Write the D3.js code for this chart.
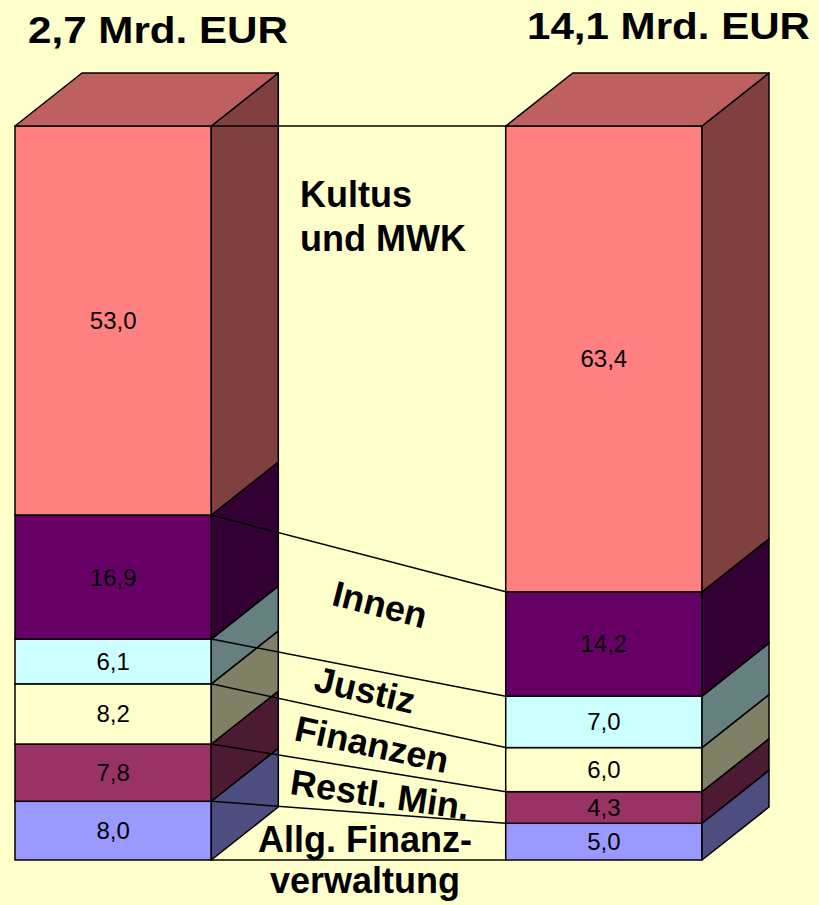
<!DOCTYPE html>
<html>
<head>
<meta charset="utf-8">
<script src="https://cdn.jsdelivr.net/npm/d3@7"></script>
<style>
  html, body { margin: 0; padding: 0; background: #FFFFCC; }
  svg { display: block; font-family: "Liberation Sans", Arial, sans-serif; }
</style>
</head>
<body>
<svg id="chart" width="819" height="905"></svg>
<script>
// bars (totals) and segments, bottom to top
const bars = ["2,7 Mrd. EUR", "14,1 Mrd. EUR"];
const categories = ["Allg. Finanzverwaltung", "Restl. Min.", "Finanzen", "Justiz", "Innen", "Kultus und MWK"];
const labelLines = [["Allg. Finanz-", "verwaltung"], ["Restl. Min."], ["Finanzen"], ["Justiz"], ["Innen"], ["Kultus", "und MWK"]];
const valuesLeft = [8.0, 7.8, 8.2, 6.1, 16.9, 53.0];
const valuesRight = [5.0, 4.3, 6.0, 7.0, 14.2, 63.4];
const colors = ["#9999FF", "#993366", "#FFFFCC", "#CCFFFF", "#660066", "#FF8080"];

const W = 819, H = 905;
const depth = { x: 67, y: -53 };

const svg = d3.select("#chart");
svg.append("rect").attr("width", W).attr("height", H).attr("fill", "#FFFFCC");

const rows = bars.map((b, i) => {
    const vals = i === 0 ? valuesLeft : valuesRight;
    const r = { bar: b };
    categories.forEach((c, j) => r[c] = vals[j]);
    return r;
});

const series = d3.stack().keys(categories).offset(d3.stackOffsetExpand)(rows);

const x = d3.scaleBand().domain(bars).range([15, 702]).paddingInner(0.6);
const y = d3.scaleLinear().domain([0, 1]).range([860, 126]);
const w = x.bandwidth();

const shade = (c, k) => {
    const r = d3.rgb(c);
    return d3.rgb(r.r * k, r.g * k, r.b * k).formatHex();
};

const de = d3.formatLocale({ decimal: ",", thousands: ".", grouping: [3], currency: ["", " €"] });
const fmt = de.format(".1f");

const gBars = svg.append("g").attr("class", "bars");

// faces
series.forEach((s, si) => {
    s.forEach((d, bi) => {
        const x0 = x(bars[bi]);
        const yt = y(d[1]), yb = y(d[0]);
        const g = gBars.append("g");
        g.append("rect")
            .attr("x", x0).attr("y", yt)
            .attr("width", w).attr("height", yb - yt)
            .attr("fill", colors[si])
            .attr("stroke", "#000").attr("stroke-width", 1.5);
        g.append("polygon")
            .attr("points", [
                [x0 + w, yt], [x0 + w + depth.x, yt + depth.y],
                [x0 + w + depth.x, yb + depth.y], [x0 + w, yb]
            ].join(" "))
            .attr("fill", shade(colors[si], 0.5))
            .attr("stroke", "#000").attr("stroke-width", 1.5)
            .attr("stroke-linejoin", "round");
        if (si === series.length - 1) {
            g.append("polygon")
                .attr("points", [
                    [x0, yt], [x0 + depth.x, yt + depth.y],
                    [x0 + w + depth.x, yt + depth.y], [x0 + w, yt]
                ].join(" "))
                .attr("fill", shade(colors[si], 0.75))
                .attr("stroke", "#000").attr("stroke-width", 1.5)
                .attr("stroke-linejoin", "round");
        }
        g.append("text")
            .attr("x", x0 + w / 2)
            .attr("y", (yt + yb) / 2)
            .attr("text-anchor", "middle")
            .attr("dominant-baseline", "central")
            .attr("font-size", 24)
            .attr("fill", "#000")
            .text(fmt(rows[bi][categories[si]]));
    });
});

// connector lines between the two bars
const xa = x(bars[0]) + w, xb = x(bars[1]);
const bounds = [[series[0][0][0], series[0][1][0]]].concat(series.map(s => [s[0][1], s[1][1]]));
svg.append("g").selectAll("line")
    .data(bounds)
    .join("line")
    .attr("x1", xa).attr("y1", d => y(d[0]))
    .attr("x2", xb).attr("y2", d => y(d[1]))
    .attr("stroke", "#000").attr("stroke-width", 1.5);

// titles
const titleX = [28, 527], titleY = [43, 39], titleLen = [260, 283];
svg.append("g").selectAll("text")
    .data(bars)
    .join("text")
    .attr("x", (_, i) => titleX[i])
    .attr("y", (_, i) => titleY[i])
    .attr("font-size", 37)
    .attr("font-weight", "bold")
    .attr("textLength", (_, i) => titleLen[i])
    .attr("lengthAdjust", "spacingAndGlyphs")
    .text(d => d);

// category labels
const labelCx = [365, 380, 372, 365, 380, 300];
const labelNudge = [0, 2, 0, -3, -11, 0];
const gLab = svg.append("g").attr("font-size", 36).attr("font-weight", "bold");

series.forEach((s, si) => {
    const lines = labelLines[si];
    if (si === series.length - 1) {
        // top segment: plain, left aligned
        gLab.append("text")
            .attr("x", labelCx[si]).attr("y", 207)
            .selectAll("tspan").data(lines).join("tspan")
            .attr("x", labelCx[si]).attr("dy", (_, i) => i ? 44 : 0)
            .text(d => d);
    } else if (si === 0) {
        gLab.append("text")
            .attr("x", labelCx[si]).attr("y", 852)
            .attr("text-anchor", "middle")
            .selectAll("tspan").data(lines).join("tspan")
            .attr("x", labelCx[si]).attr("dy", (_, i) => i ? 41 : 0)
            .text(d => d);
    } else {
        const yl = y((s[0][0] + s[0][1]) / 2);
        const yr = y((s[1][0] + s[1][1]) / 2);
        const t = (labelCx[si] - xa) / (xb - xa);
        const cy = yl + (yr - yl) * t + labelNudge[si];
        const ang = Math.atan2(yr - yl, xb - xa) * 180 / Math.PI + 1.5;
        gLab.append("text")
            .attr("transform", `translate(${labelCx[si]},${cy}) rotate(${ang})`)
            .attr("text-anchor", "middle")
            .attr("dominant-baseline", "central")
            .text(lines[0]);
    }
});
</script>
</body>
</html>
